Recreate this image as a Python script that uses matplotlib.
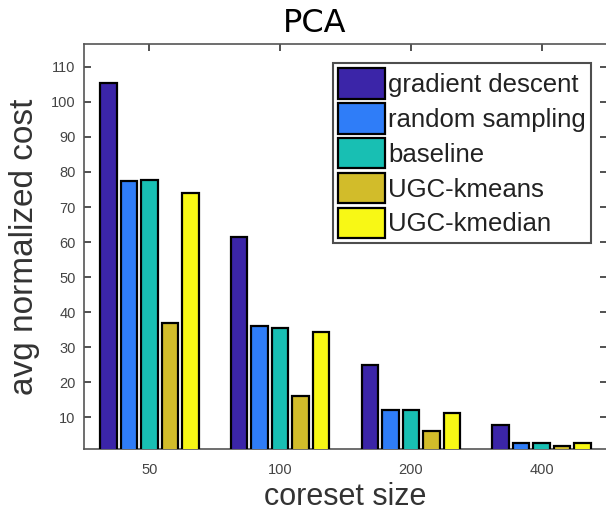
import matplotlib
matplotlib.use("Agg")
import matplotlib.pyplot as plt
import numpy as np

sizes = ["50", "100", "200", "400"]
series = ["gradient descent", "random sampling", "baseline", "UGC-kmeans", "UGC-kmedian"]
gradient_descent = [105.5, 61.5, 25.0, 7.8]
random_sampling = [77.3, 36.0, 12.0, 2.8]
baseline = [77.8, 35.5, 12.0, 2.8]
ugc_kmeans = [36.9, 16.0, 6.0, 1.8]
ugc_kmedian = [74.0, 34.4, 11.3, 2.8]
yticks = [10, 20, 30, 40, 50, 60, 70, 80, 90, 100, 110]

colors = ["#3b25a8", "#2f7df8", "#18bfb3", "#d2bc2a", "#f8f815"]
values = [gradient_descent, random_sampling, baseline, ugc_kmeans, ugc_kmedian]

fig = plt.figure(figsize=(6.06, 5.17), dpi=100)
ax = fig.add_axes([84/606, (517-449)/517, 523/606, (449-44)/517])

x = np.arange(1, len(sizes) + 1)
step = 0.157
width = 0.127
for i, (name, vals, c) in enumerate(zip(series, values, colors)):
    ax.bar(x + (i - 2) * step, vals, width=width, color=c, edgecolor="black",
           linewidth=1.6, label=name, zorder=3)

ax.set_xlim(0.5, 4.5)
ax.set_ylim(1.0, 116.5)
ax.set_xticks(x)
ax.set_xticklabels(sizes)
ax.set_yticks(yticks)
ax.tick_params(axis="both", direction="in", length=5, width=1.2, color="#333333",
               labelsize=10.5, labelcolor="#444444", top=True, right=True)
ax.tick_params(axis="x", pad=10)
ax.tick_params(axis="y", pad=6)
for s in ax.spines.values():
    s.set_color("#555555")
    s.set_linewidth(1.2)

ax.set_xlabel("coreset size", fontsize=22, family="Liberation Sans", color="#333333", labelpad=4)
ax.set_ylabel("avg normalized cost", fontsize=24, family="Liberation Sans", color="#333333", labelpad=8)
for lab in ax.get_xticklabels() + ax.get_yticklabels():
    lab.set_family("Liberation Sans")

fig.text(0.52, 0.955, "PCA", ha="center", va="center", fontsize=23, family="DejaVu Sans")

leg = ax.legend(loc="upper right", bbox_to_anchor=(0.97, 0.953),
                prop={"family": "Liberation Sans", "size": 18.5},
                frameon=True, fancybox=False, edgecolor="#222222",
                handlelength=1.85, handleheight=1.45, handletextpad=0.12,
                labelspacing=0.17, borderpad=0.2, borderaxespad=0.0)
leg.get_frame().set_linewidth(1.5)
for t in leg.get_texts():
    t.set_color("#222222")

fig.savefig("out.png", dpi=100)
